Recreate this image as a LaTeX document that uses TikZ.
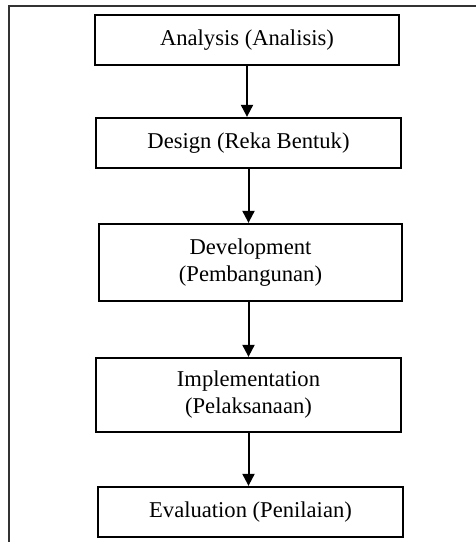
\documentclass[tikz,border=0pt]{standalone}
\usepackage{fontspec}
\setmainfont{Liberation Serif}
\usetikzlibrary{arrows.meta}
\begin{document}
\begin{tikzpicture}[x=1pt,y=-1pt,
  stagebox/.style={draw=black, line width=2.3pt, fill=white, inner sep=0pt,
    align=center, font=\fontsize{22.6}{27}\selectfont},
  flowarrow/.style={line width=2pt, -{Triangle[width=12pt,length=12pt]}},
  frameline/.style={draw=black!80, line width=2pt}]
\useasboundingbox (0,0) rectangle (476,542);
\draw[frameline] (9,542) -- (9,6) -- (476,6);
\node[stagebox, minimum width=304pt, minimum height=50pt] (b1) at (247,40) {Analysis (Analisis)};
\node[stagebox, minimum width=305pt, minimum height=50pt] (b2) at (248.5,143) {Design (Reka Bentuk)};
\node[stagebox, minimum width=303pt, minimum height=77pt] (b3) at (250.5,262.5) {Development\\(Pembangunan)};
\node[stagebox, minimum width=305pt, minimum height=74pt] (b4) at (248.5,395) {Implementation\\(Pelaksanaan)};
\node[stagebox, minimum width=305pt, minimum height=50pt] (b5) at (250.5,512) {Evaluation (Penilaian)};
\draw[flowarrow] (b1.south) -- (b1.south |- b2.north);
\draw[flowarrow] (b2.south) -- (b2.south |- b3.north);
\draw[flowarrow] (b3.south -| b4.north) -- (b4.north);
\draw[flowarrow] (b4.south) -- (b4.south |- b5.north);
\end{tikzpicture}
\end{document}
